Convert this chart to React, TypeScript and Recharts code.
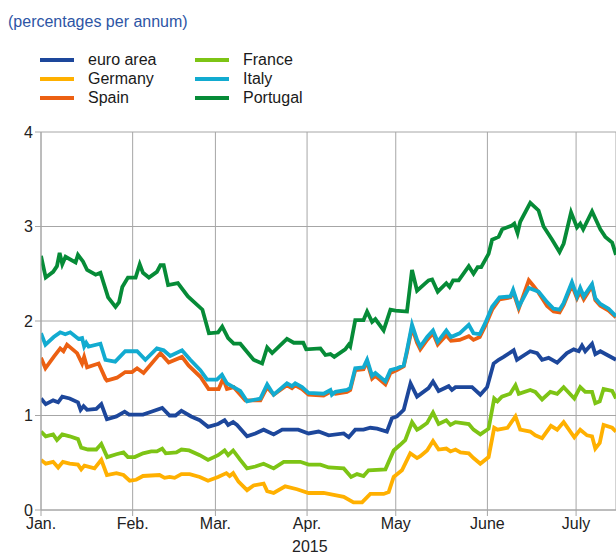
import { CartesianGrid, Line, LineChart, XAxis, YAxis } from "recharts";

// x values are days since 1 January 2015
const monthTicks = [0, 31, 59, 90, 120, 151, 181];
const monthLabels = ["Jan.", "Feb.", "Mar.", "Apr.", "May", "June", "July"];
const yTicks = [0, 1, 2, 3, 4];

const euroArea: [number, number][] = [
  [0, 1.18], [1.6, 1.12], [4.1, 1.16], [5.8, 1.14], [7.2, 1.2], [9.7, 1.18], [12.5, 1.14],
  [13.4, 1.06], [14.4, 1.1], [15.6, 1.06], [18.7, 1.07], [20.4, 1.12], [22.3, 0.96], [25.5, 0.99],
  [28.3, 1.04], [29.8, 1.01], [34.5, 1.01], [37.3, 1.04], [41, 1.08], [43.5, 1.0], [45.5, 1.0],
  [47.5, 1.05], [50.8, 0.99], [53.7, 0.95], [56.5, 0.88], [59.9, 0.91], [62.1, 0.95], [63.3, 0.9],
  [65, 0.93], [66.3, 0.9], [69.7, 0.78], [72.5, 0.81], [75.3, 0.85], [78.7, 0.8], [81.6, 0.85],
  [87, 0.85], [90.5, 0.81], [93.9, 0.83], [97.3, 0.79], [102.4, 0.81], [104.1, 0.77], [106.3, 0.85],
  [109.1, 0.85], [111.4, 0.87], [113.7, 0.86], [117, 0.83], [118.7, 0.97], [120.4, 0.99],
  [122.7, 1.06], [125, 1.34], [127.2, 1.2], [131.1, 1.29], [132.6, 1.36], [134.5, 1.26],
  [137.9, 1.31], [139, 1.27], [140.2, 1.3], [145.8, 1.3], [148.6, 1.22], [150.9, 1.3], [153.1, 1.55],
  [154.8, 1.59], [156.5, 1.62], [159.9, 1.69], [161, 1.59], [165.5, 1.68], [167.8, 1.66],
  [169.5, 1.59], [171.7, 1.61], [174.6, 1.56], [177.9, 1.66], [180.2, 1.7], [181.9, 1.68],
  [183, 1.74], [184.1, 1.68], [186.4, 1.76], [187.5, 1.65], [189.2, 1.68], [194.5, 1.59],
];

const germany: [number, number][] = [
  [0, 0.53], [1.6, 0.49], [4.1, 0.51], [5.8, 0.45], [7.4, 0.51], [9.7, 0.49], [12.5, 0.48],
  [13.6, 0.43], [14.7, 0.47], [18.1, 0.44], [20.4, 0.53], [22.3, 0.37], [25.5, 0.39], [27.9, 0.37],
  [30, 0.31], [32.2, 0.32], [34.5, 0.36], [40.1, 0.37], [41.8, 0.34], [43.5, 0.35], [45.2, 0.34],
  [47.5, 0.38], [50.3, 0.38], [53.7, 0.35], [56.5, 0.31], [59.9, 0.35], [62.7, 0.39], [63.8, 0.36],
  [65, 0.39], [66.8, 0.3], [69.7, 0.21], [71.9, 0.26], [75.3, 0.28], [76.5, 0.2], [78.7, 0.18],
  [82.6, 0.25], [86.6, 0.22], [90.5, 0.18], [95.6, 0.18], [102.4, 0.14], [105.7, 0.08],
  [108.6, 0.08], [111.4, 0.17], [115.9, 0.17], [117.6, 0.19], [119.3, 0.35], [122.1, 0.42],
  [124.9, 0.6], [127.2, 0.55], [128.3, 0.57], [130.6, 0.63], [132.6, 0.73], [134.5, 0.64],
  [137.1, 0.65], [138.5, 0.62], [140.2, 0.64], [141.9, 0.61], [144.7, 0.6], [146.3, 0.55],
  [148.6, 0.49], [151.4, 0.56], [153.3, 0.87], [154.4, 0.85], [157.8, 0.87], [160.5, 0.99],
  [162.1, 0.85], [165.5, 0.83], [167.2, 0.79], [169.5, 0.76], [172.5, 0.89], [174.6, 0.85],
  [176.8, 0.93], [180.4, 0.77], [182.4, 0.85], [184.7, 0.79], [186.4, 0.78], [187.5, 0.65],
  [189, 0.71], [190.3, 0.9], [193.2, 0.87], [194.5, 0.83],
];

const spain: [number, number][] = [
  [0, 1.61], [1.5, 1.5], [4.3, 1.62], [6.5, 1.71], [7.6, 1.68], [8.8, 1.75], [12.2, 1.66],
  [13.9, 1.55], [14.6, 1.62], [15.6, 1.51], [19.5, 1.55], [21.8, 1.39], [22.3, 1.37], [25.7, 1.4],
  [28.5, 1.46], [30.8, 1.46], [32.5, 1.5], [34.7, 1.45], [40.4, 1.66], [43.2, 1.56], [47.7, 1.62],
  [49.9, 1.53], [53.9, 1.41], [56.7, 1.28], [60.1, 1.28], [61.6, 1.39], [62.9, 1.28], [65.2, 1.3],
  [69.1, 1.16], [74.2, 1.16], [76.5, 1.3], [78.7, 1.22], [83.2, 1.32], [84.9, 1.29], [86, 1.32],
  [88.3, 1.28], [90.5, 1.22], [95.6, 1.21], [97.9, 1.25], [99.6, 1.23], [103.5, 1.25],
  [104.6, 1.27], [106.3, 1.48], [109.1, 1.49], [110.3, 1.57], [112, 1.39], [113.1, 1.42],
  [116.5, 1.33], [118.2, 1.45], [120.4, 1.48], [122.7, 1.52], [123.8, 1.67], [125.5, 1.93],
  [127.2, 1.77], [128.3, 1.7], [130.6, 1.8], [132.6, 1.87], [134.2, 1.75], [137.1, 1.85],
  [138.7, 1.79], [141.6, 1.8], [144.7, 1.84], [146.3, 1.8], [148.4, 1.83], [150.3, 1.95],
  [152.6, 2.12], [155.1, 2.23], [158.8, 2.25], [159.7, 2.31], [161.6, 2.13], [165, 2.43],
  [166.6, 2.37], [168.3, 2.3], [171.2, 2.16], [173.4, 2.1], [175.4, 2.09], [176.8, 2.17],
  [179.6, 2.38], [181.3, 2.24], [182.4, 2.31], [183.6, 2.23], [186.4, 2.37], [187.5, 2.22],
  [189.2, 2.16], [192, 2.11], [194.5, 2.04],
];

const france: [number, number][] = [
  [0, 0.83], [1.6, 0.78], [4.1, 0.8], [5.4, 0.74], [7.2, 0.8], [9.7, 0.78], [12.5, 0.75],
  [13.6, 0.66], [15.9, 0.64], [18.7, 0.64], [20.4, 0.7], [22.4, 0.56], [25.5, 0.59], [27.9, 0.61],
  [29.4, 0.56], [31.7, 0.56], [34.5, 0.6], [37.3, 0.62], [39.2, 0.62], [41, 0.65], [42.2, 0.6],
  [45.8, 0.61], [47.5, 0.64], [50.1, 0.63], [53.7, 0.58], [56.5, 0.53], [59.9, 0.58], [62.1, 0.63],
  [63.3, 0.58], [65, 0.63], [67.4, 0.53], [69.7, 0.44], [72.5, 0.46], [75.3, 0.49], [78.7, 0.44],
  [82.1, 0.51], [87.7, 0.51], [90.5, 0.48], [94.5, 0.48], [97.3, 0.45], [102.4, 0.44],
  [104.9, 0.35], [106.9, 0.38], [109.1, 0.36], [110.8, 0.42], [116.5, 0.43], [119.3, 0.63],
  [121.5, 0.69], [123.2, 0.74], [125.5, 0.93], [127.2, 0.85], [128.3, 0.87], [130.6, 0.92],
  [132.6, 1.03], [134.5, 0.91], [137.1, 0.95], [138.5, 0.9], [140.2, 0.93], [144.7, 0.91],
  [146.3, 0.85], [148.6, 0.8], [151.4, 0.86], [153.3, 1.18], [154.4, 1.15], [155.9, 1.2],
  [158.7, 1.23], [160.5, 1.32], [161.6, 1.23], [165.5, 1.27], [167.2, 1.25], [169.5, 1.17],
  [172.3, 1.25], [174.6, 1.23], [176.8, 1.3], [180.4, 1.18], [182.4, 1.3], [184.1, 1.25],
  [186.4, 1.25], [187.5, 1.13], [189, 1.15], [190.3, 1.28], [193.2, 1.26], [194.5, 1.18],
];

const italy: [number, number][] = [
  [0, 1.87], [1.5, 1.75], [4.3, 1.83], [6.5, 1.88], [8.2, 1.86], [9.9, 1.88], [12.7, 1.81],
  [13.9, 1.82], [14.6, 1.73], [15.3, 1.77], [16.1, 1.73], [20.1, 1.76], [21.8, 1.59], [25.1, 1.57],
  [28.5, 1.68], [32.5, 1.68], [35.3, 1.59], [39.2, 1.71], [41.5, 1.69], [43.7, 1.63], [47.7, 1.69],
  [50.5, 1.59], [53.9, 1.48], [56.2, 1.38], [59.5, 1.38], [61.2, 1.43], [62.9, 1.34], [67.4, 1.26],
  [69.7, 1.15], [74.2, 1.18], [76.5, 1.33], [78.7, 1.22], [83.2, 1.34], [84.9, 1.31], [86, 1.34],
  [88.3, 1.3], [90.5, 1.24], [95.6, 1.23], [97.9, 1.27], [98.4, 1.22], [99.6, 1.25], [103.5, 1.27],
  [104.6, 1.29], [106.3, 1.5], [109.1, 1.51], [110.3, 1.59], [112, 1.42], [113.1, 1.45],
  [116.5, 1.36], [118.2, 1.48], [120.4, 1.5], [122.7, 1.53], [123.8, 1.69], [125.5, 1.96],
  [127.2, 1.8], [128.3, 1.73], [130.6, 1.83], [132.6, 1.9], [134.2, 1.78], [137.1, 1.9],
  [138.7, 1.83], [141.6, 1.87], [144.7, 1.96], [146.3, 1.87], [148.4, 1.86], [150.3, 1.98],
  [152.6, 2.15], [155.1, 2.25], [158.8, 2.26], [159.7, 2.33], [161.6, 2.15], [165, 2.35],
  [166.6, 2.33], [168.3, 2.31], [171.2, 2.2], [173.4, 2.13], [175.4, 2.12], [176.8, 2.19],
  [179.6, 2.41], [181.3, 2.26], [182.4, 2.35], [183.6, 2.26], [186.4, 2.39], [187.5, 2.24],
  [189.2, 2.18], [192, 2.13], [194.5, 2.05],
];

const portugal: [number, number][] = [
  [0, 2.69], [1.6, 2.46], [4.1, 2.52], [5.4, 2.58], [6.3, 2.72], [7.2, 2.6], [8.3, 2.68],
  [11.7, 2.62], [12.5, 2.7], [14.2, 2.63], [15.6, 2.54], [18.5, 2.49], [20.1, 2.51], [22.7, 2.25],
  [25.2, 2.15], [26.4, 2.2], [27.5, 2.36], [29.4, 2.46], [32, 2.46], [33.4, 2.6], [34.5, 2.51],
  [36.5, 2.46], [39.2, 2.52], [40.4, 2.59], [41.5, 2.59], [43, 2.38], [46.3, 2.4], [49.7, 2.26],
  [54.6, 2.12], [56.8, 1.87], [59.9, 1.88], [61.3, 1.94], [63.3, 1.82], [65.2, 1.76], [67.4, 1.76],
  [71.9, 1.59], [74.8, 1.55], [76.5, 1.72], [78.2, 1.66], [83.2, 1.81], [85.5, 1.77], [88.7, 1.77],
  [89.7, 1.7], [94.5, 1.71], [96.2, 1.64], [97.9, 1.65], [99.2, 1.62], [102.9, 1.7], [104.1, 1.75],
  [104.6, 1.73], [106.3, 2.01], [109.1, 2.01], [110.3, 2.1], [112, 1.99], [113.1, 2.02],
  [115.9, 1.9], [118.2, 2.12], [119.9, 2.11], [123.8, 2.1], [125.5, 2.54], [127.2, 2.32],
  [131.1, 2.43], [132.3, 2.44], [134.2, 2.31], [137.1, 2.4], [138.2, 2.36], [139.4, 2.43],
  [141.3, 2.43], [144.7, 2.58], [146.3, 2.5], [147.7, 2.57], [148.9, 2.57], [151.4, 2.71],
  [152.6, 2.86], [154.8, 2.89], [156, 2.97], [159.3, 3.01], [160.1, 3.03], [161.2, 2.93],
  [162.1, 3.05], [165.5, 3.25], [168.3, 3.17], [170, 3.0], [172.9, 2.86], [175.4, 2.73],
  [176.8, 2.82], [179.3, 3.15], [181.3, 2.99], [182.4, 3.03], [183.4, 2.97], [186.4, 3.16],
  [189.2, 2.97], [190.9, 2.89], [193.2, 2.83], [194.5, 2.7],
];

const series = [
  { key: "euroArea", name: "euro area", color: "#1d479b", points: euroArea },
  { key: "germany", name: "Germany", color: "#ffb000", points: germany },
  { key: "spain", name: "Spain", color: "#ec6012", points: spain },
  { key: "france", name: "France", color: "#7dc415", points: france },
  { key: "italy", name: "Italy", color: "#12abd0", points: italy },
  { key: "portugal", name: "Portugal", color: "#068b37", points: portugal },
];

// one row per day, each series filling only the days it has
const rows = (() => {
  const byDay = new Map<number, Record<string, number>>();
  for (const s of series) {
    for (const [day, value] of s.points) {
      const row = byDay.get(day) ?? { day };
      row[s.key] = value;
      byDay.set(day, row);
    }
  }
  return [...byDay.values()].sort((a, b) => a.day - b.day);
})();

const font = '"Liberation Sans", Arial, sans-serif';
const grid = "#a6a6a6";

export default function App() {
  return (
    <div
      style={{
        position: "relative",
        width: 616,
        height: 554,
        overflow: "hidden",
        fontFamily: font,
      }}
    >
      <style>{"body { margin: 0; overflow: hidden; }"}</style>
      <div
        style={{
          position: "absolute",
          left: 8,
          top: 12,
          fontSize: 16,
          lineHeight: "19px",
          color: "#2d55a5",
        }}
      >
        (percentages per annum)
      </div>

      <div
        style={{
          position: "absolute",
          left: 40,
          top: 50,
          display: "grid",
          gridTemplateColumns: "155px 160px",
          gridAutoFlow: "column",
          gridTemplateRows: "19px 19px 19px",
          fontSize: 16,
          lineHeight: "19px",
          color: "#1a1a1a",
        }}
      >
        {series.map((s) => (
          <div key={s.key} style={{ display: "flex", alignItems: "center" }}>
            <span
              style={{
                display: "inline-block",
                width: 34,
                height: 4,
                background: s.color,
                marginRight: 14,
              }}
            />
            {s.name}
          </div>
        ))}
      </div>

      <div style={{ position: "absolute", left: 8, top: 8 }}>
        <LineChart
          width={608}
          height={546}
          data={rows}
          margin={{ top: 124, right: 0, bottom: 14, left: 0 }}
        >
          <CartesianGrid stroke={grid} strokeWidth={1} />
          <XAxis
            type="number"
            dataKey="day"
            domain={[0, 194.5]}
            allowDataOverflow
            ticks={monthTicks}
            tickFormatter={(v) => monthLabels[monthTicks.indexOf(v)] ?? ""}
            interval={0}
            height={30}
            stroke={grid}
            tick={{ fill: "#222", fontSize: 16, fontFamily: font }}
            tickSize={6}
          />
          <YAxis
            type="number"
            domain={[0, 4]}
            ticks={yTicks}
            width={33}
            stroke={grid}
            tick={{ fill: "#222", fontSize: 16, fontFamily: font }}
            tickSize={6}
          />
          {series.map((s) => (
            <Line
              key={s.key}
              type="linear"
              dataKey={s.key}
              stroke={s.color}
              strokeWidth={3.8}
              dot={false}
              connectNulls
              isAnimationActive={false}
            />
          ))}
        </LineChart>
      </div>

      <div
        style={{
          position: "absolute",
          left: 292,
          top: 537,
          fontSize: 16,
          lineHeight: "19px",
          color: "#222",
        }}
      >
        2015
      </div>
    </div>
  );
}
